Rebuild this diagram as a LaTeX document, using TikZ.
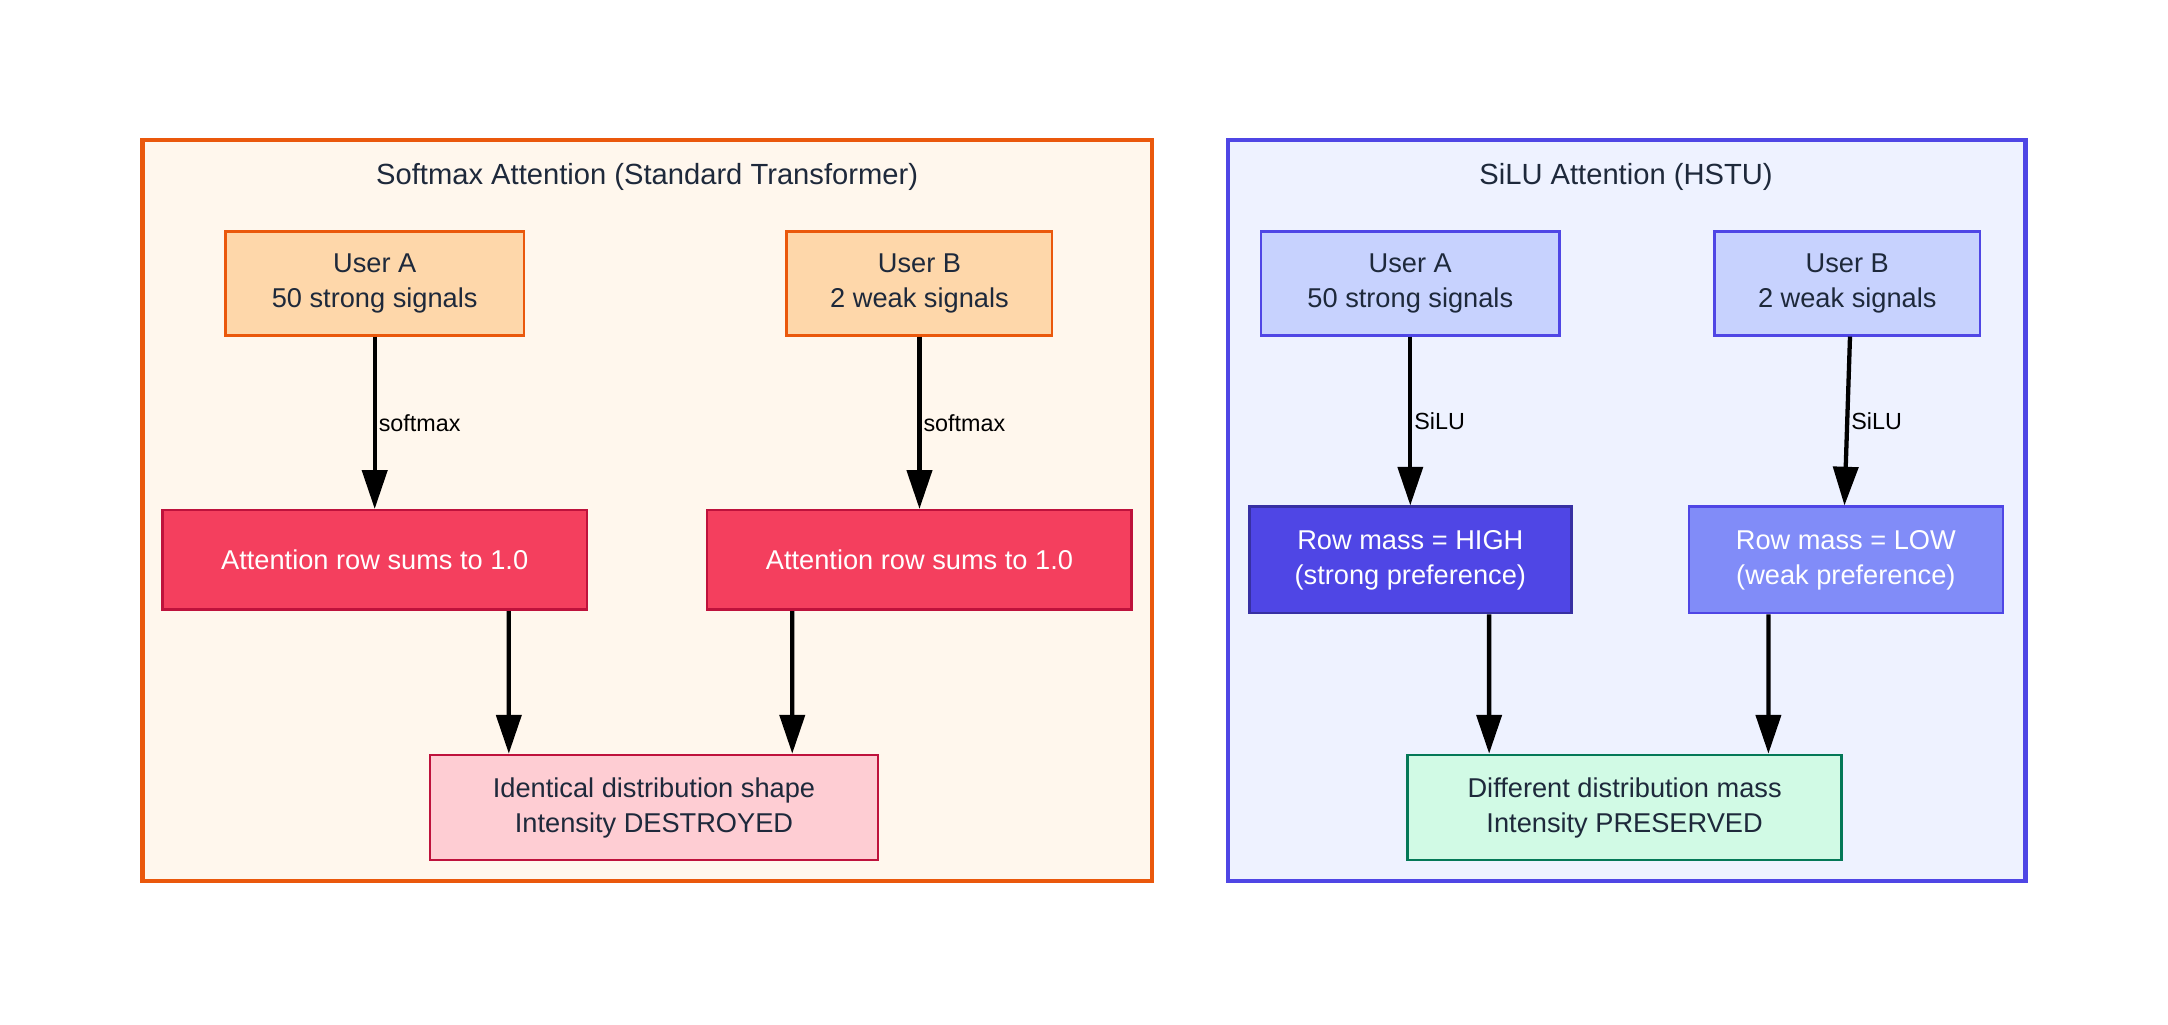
\documentclass[tikz,border=0pt]{standalone}
\usepackage{fontspec}
\setmainfont{Liberation Sans}
\usetikzlibrary{positioning,arrows.meta}
\definecolor{txt}{HTML}{1E293B}
\definecolor{orgline}{HTML}{EA580C}
\definecolor{orgbg}{HTML}{FFF7ED}
\definecolor{orgbox}{HTML}{FED7AA}
\definecolor{redbox}{HTML}{F43F5E}
\definecolor{redline}{HTML}{BE123C}
\definecolor{pinkbox}{HTML}{FECDD3}
\definecolor{bluline}{HTML}{4F46E5}
\definecolor{blubg}{HTML}{EEF2FF}
\definecolor{blubox}{HTML}{C7D2FE}
\definecolor{hibox}{HTML}{4F46E5}
\definecolor{hiline}{HTML}{3730A3}
\definecolor{lobox}{HTML}{818CF8}
\definecolor{grnbox}{HTML}{D1FAE5}
\definecolor{grnline}{HTML}{047857}
\tikzset{
  box/.style={rectangle,draw,line width=1.3pt,align=center,text=txt,
    font=\fontsize{14}{18}\selectfont,inner sep=2pt},
  arr/.style={line width=2.2pt,-{Stealth[length=0.7cm,width=0.45cm,inset=0pt]}},
  lbl/.style={right,inner sep=1pt,font=\fontsize{12}{14}\selectfont},
  group/.style={line width=2.2pt},
}
\begin{document}
\begin{tikzpicture}
\useasboundingbox (0,0) rectangle (39.2,-18.53);
% clusters
\draw[group,draw=orgline,fill=orgbg] (2.575,-2.525) rectangle (20.825,-15.925);
\node[text=txt,font=\fontsize{15}{18}\selectfont] (ttlA) at (11.7,-3.2) {Softmax Attention (Standard Transformer)};
\draw[group,draw=bluline,fill=blubg] (22.2,-2.525) rectangle (36.625,-15.925);
\node[text=txt,font=\fontsize{15}{18}\selectfont] (ttlB) at (29.4,-3.2) {SiLU Attention (HSTU)};

% softmax side
\node[box,draw=orgline,fill=orgbox,minimum width=5.4cm,minimum height=1.875cm] (ua) at (6.775,-5.125) {User A\\50 strong signals};
\node[box,draw=orgline,fill=orgbox,minimum width=4.8cm,minimum height=1.875cm] (ub) at (16.625,-5.125) {User B\\2 weak signals};
\node[box,draw=redline,fill=redbox,text=white,minimum width=7.675cm,minimum height=1.8cm] (rowa) at (6.775,-10.125) {Attention row sums to 1.0};
\node[box,draw=redline,fill=redbox,text=white,minimum width=7.675cm,minimum height=1.8cm] (rowb) at (16.625,-10.125) {Attention row sums to 1.0};
\node[box,draw=redline,fill=pinkbox,minimum width=8.1cm,minimum height=1.9cm] (ident) at (11.825,-14.6) {Identical distribution shape\\Intensity DESTROYED};

% silu side
\node[box,draw=bluline,fill=blubox,minimum width=5.4cm,minimum height=1.875cm] (sa) at (25.5,-5.125) {User A\\50 strong signals};
\node[box,draw=bluline,fill=blubox,minimum width=4.8cm,minimum height=1.875cm] (sb) at (33.4,-5.125) {User B\\2 weak signals};
\node[box,draw=hiline,fill=hibox,text=white,minimum width=5.825cm,minimum height=1.925cm] (high) at (25.5,-10.125) {Row mass = HIGH\\(strong preference)};
\node[box,draw=bluline,fill=lobox,text=white,minimum width=5.675cm,minimum height=1.925cm] (low) at (33.375,-10.125) {Row mass = LOW\\(weak preference)};
\node[box,draw=grnline,fill=grnbox,minimum width=7.85cm,minimum height=1.9cm] (diff) at (29.375,-14.6) {Different distribution mass\\Intensity PRESERVED};

% edges
\draw[arr] (ua) -- node[lbl] {softmax} (rowa);
\draw[arr] (ub) -- node[lbl] {softmax} (rowb);
\draw[arr] ([xshift=2.425cm]rowa.south) -- ([xshift=-2.625cm]ident.north);
\draw[arr] ([xshift=-2.3cm]rowb.south) -- ([xshift=2.5cm]ident.north);
\draw[arr] (sa) -- node[lbl] {SiLU} (high);
\draw[arr] ([xshift=0.05cm]sb.south) -- node[lbl] {SiLU} ([xshift=-0.025cm]low.north);
\draw[arr] ([xshift=1.425cm]high.south) -- ([xshift=-2.45cm]diff.north);
\draw[arr] ([xshift=-1.4cm]low.south) -- ([xshift=2.6cm]diff.north);
\end{tikzpicture}
\end{document}
